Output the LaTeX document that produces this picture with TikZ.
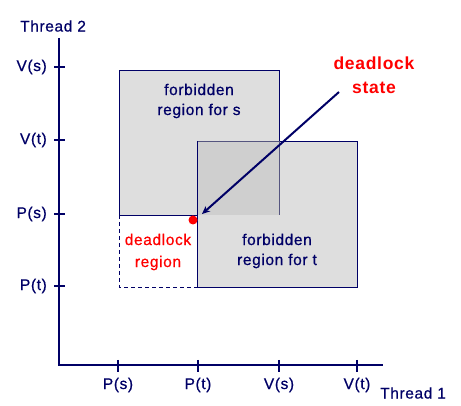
\documentclass[tikz,border=0pt]{standalone}
\usepackage{fontspec}
\setmainfont{Liberation Sans}[LetterSpace=4,FakeBold=0.6]
\newfontfamily\boldred{Liberation Sans Bold}[LetterSpace=4]
\usetikzlibrary{arrows.meta}
\definecolor{navy}{HTML}{000066}
\definecolor{boxgray}{HTML}{DEDEDE}
\definecolor{overgray}{HTML}{CFCFCF}
\definecolor{overline}{HTML}{55557F}
\begin{document}
\begin{tikzpicture}[x=1pt,y=-1pt,
  lbl/.style={text=navy,font=\fontsize{15.5}{18}\selectfont,inner sep=0pt},
  redlbl/.style={text=red,font=\fontsize{15.5}{22}\selectfont,align=center,inner sep=0pt},
  boxtxt/.style={text=navy,font=\fontsize{15.5}{20}\selectfont,align=center,inner sep=0pt},
  axis/.style={navy,line width=2pt},
  tick/.style={navy,line width=1.5pt},
  region/.style={draw=navy,line width=0.8pt,fill=boxgray}]
\useasboundingbox (0,0) rectangle (461,406);
% regions
\draw[region] (119,70) rectangle (279,215);
\draw[region] (197,141) rectangle (357,287);
\fill[overgray] (197,141) rectangle (279,215);
\draw[overline,line width=0.8pt] (197,141) -- (279,141) -- (279,215);
\draw[navy,line width=0.8pt] (197,141) -- (197,215) -- (119,215);
\draw[navy,line width=0.8pt,dash pattern=on 4pt off 3pt] (119,215) -- (119,287) -- (197,287);
% axes
\coordinate (o) at (59,365);
\coordinate (ytop) at (59,38);
\coordinate (xend) at (383,365);
\draw[axis] (ytop) -- (o) -- (xend);
% y ticks
\foreach \y/\t in {67/V(s),140/V(t),214/P(s),286/P(t)}{
  \draw[tick] (54,\y) -- (65,\y);
  \node[lbl,anchor=east] at (47,\y) {\t};
}
% x ticks
\foreach \x/\t in {118/P(s),198/P(t),279/V(s),357/V(t)}{
  \draw[tick] (\x,360) -- (\x,372);
  \node[lbl] at (\x,385) {\t};
}
\node[lbl,anchor=west] (t2) at (20,26) {Thread 2};
\node[lbl,anchor=west] (t1) at (380,393) {Thread 1};
% texts
\node[boxtxt] (fs) at (199,101) {forbidden\\region for s};
\node[boxtxt] (ft) at (277,251) {forbidden\\region for t};
\node[redlbl] (dr) at (158,252) {deadlock\\region};
\node[redlbl,font=\fontsize{17.5}{24}\selectfont\boldred] (ds) at (374,75) {deadlock\\state};
% dot and arrow
\fill[red] (193,220) circle (4.5);
\coordinate (astart) at (339,92);
\coordinate (aend) at (202,214);
\draw[navy,line width=2pt,-{Stealth[length=8pt,width=7pt]}] (astart) -- (aend);
\end{tikzpicture}
\end{document}
